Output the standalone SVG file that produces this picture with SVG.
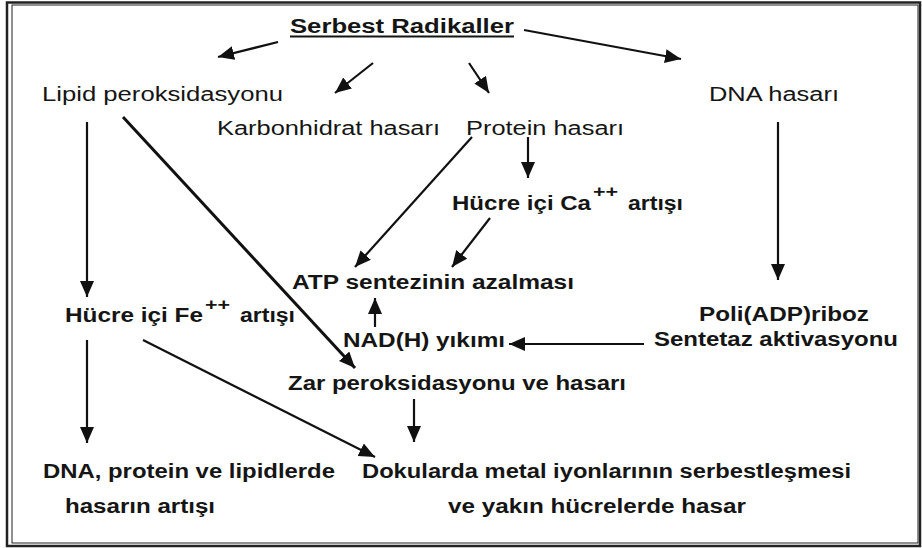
<svg xmlns="http://www.w3.org/2000/svg" width="922" height="548" viewBox="0 0 922 548">
<style>
  text { font-family: "Liberation Sans", Arial, sans-serif; font-size: 20px; fill: #151515; }
  .b { font-weight: bold; }
  .sup { font-size: 16px; font-weight: bold; }
  .c line { stroke: #111; stroke-width: 2.2; fill: none; marker-end: url(#ah); }
  .frame { fill: none; stroke: #222; }
</style>
<defs>
  <marker id="ah" markerUnits="userSpaceOnUse" markerWidth="18" markerHeight="16" refX="16" refY="7" orient="auto">
    <path d="M0,0 L16,7 L0,14 z" fill="#111"/>
  </marker>
</defs>
<rect x="0" y="0" width="922" height="548" fill="#fff"/>
<g id="frame">
  <rect class="frame" x="7" y="2.5" width="913" height="543.5" stroke-width="2.5"/>
  <rect class="frame" x="12" y="5" width="906" height="538" stroke-width="1"/>
</g>
<g class="c" id="connectors">
  <line x1="278" y1="42" x2="218" y2="57"/>
  <line x1="373" y1="63" x2="335" y2="93"/>
  <line x1="469" y1="63" x2="489" y2="93"/>
  <line x1="524" y1="30" x2="681" y2="59"/>
  <line x1="87" y1="122" x2="87" y2="297"/>
  <line x1="123" y1="117" x2="355" y2="368" style="stroke-width:3"/>
  <line x1="472" y1="137" x2="355" y2="267"/>
  <line x1="528" y1="137" x2="528" y2="178"/>
  <line x1="490" y1="218" x2="452" y2="267"/>
  <line x1="778" y1="122" x2="778" y2="280"/>
  <line x1="375" y1="327" x2="375" y2="298"/>
  <line x1="644" y1="344" x2="509" y2="344"/>
  <line x1="87" y1="340" x2="87" y2="443"/>
  <line x1="143" y1="340" x2="375" y2="457"/>
  <line x1="414" y1="399" x2="414" y2="442"/>
</g>
<g id="serbest">
  <text class="b" x="290" y="33" textLength="224" lengthAdjust="spacingAndGlyphs">Serbest Radikaller</text>
  <line x1="290" y1="36.5" x2="514" y2="36.5" stroke="#151515" stroke-width="2"/>
</g>
<g id="lipid"><text x="42" y="101" textLength="241" lengthAdjust="spacingAndGlyphs">Lipid peroksidasyonu</text></g>
<g id="karbonhidrat"><text x="217" y="135" textLength="223" lengthAdjust="spacingAndGlyphs">Karbonhidrat hasarı</text></g>
<g id="protein"><text x="466" y="135" textLength="158" lengthAdjust="spacingAndGlyphs">Protein hasarı</text></g>
<g id="dna"><text x="709" y="101" textLength="130" lengthAdjust="spacingAndGlyphs">DNA hasarı</text></g>
<g id="ca">
  <text class="b" y="210"><tspan x="452" textLength="139" lengthAdjust="spacingAndGlyphs">Hücre içi Ca</tspan><tspan class="sup" x="593" y="197" textLength="25" lengthAdjust="spacingAndGlyphs">++</tspan><tspan x="628" y="210" textLength="55" lengthAdjust="spacingAndGlyphs">artışı</tspan></text>
</g>
<g id="atp"><text class="b" x="292" y="289" textLength="282" lengthAdjust="spacingAndGlyphs">ATP sentezinin azalması</text></g>
<g id="fe">
  <text class="b" y="322"><tspan x="65" textLength="138" lengthAdjust="spacingAndGlyphs">Hücre içi Fe</tspan><tspan class="sup" x="205" y="310" textLength="25" lengthAdjust="spacingAndGlyphs">++</tspan><tspan x="240" y="322" textLength="55" lengthAdjust="spacingAndGlyphs">artışı</tspan></text>
</g>
<g id="nad"><text class="b" x="343" y="347" textLength="162" lengthAdjust="spacingAndGlyphs">NAD(H) yıkımı</text></g>
<g id="poli">
  <text class="b" x="699" y="321" textLength="170" lengthAdjust="spacingAndGlyphs">Poli(ADP)riboz</text>
  <text class="b" x="654" y="346" textLength="244" lengthAdjust="spacingAndGlyphs">Sentetaz aktivasyonu</text>
</g>
<g id="zar"><text class="b" x="288" y="390" textLength="338" lengthAdjust="spacingAndGlyphs">Zar peroksidasyonu ve hasarı</text></g>
<g id="dnaprotein">
  <text class="b" x="43" y="478" textLength="292" lengthAdjust="spacingAndGlyphs">DNA, protein ve lipidlerde</text>
  <text class="b" x="65" y="513" textLength="150" lengthAdjust="spacingAndGlyphs">hasarın artışı</text>
</g>
<g id="dokularda">
  <text class="b" x="362" y="478" textLength="489" lengthAdjust="spacingAndGlyphs">Dokularda metal iyonlarının serbestleşmesi</text>
  <text class="b" x="448" y="513" textLength="298" lengthAdjust="spacingAndGlyphs">ve yakın hücrelerde hasar</text>
</g>
</svg>
